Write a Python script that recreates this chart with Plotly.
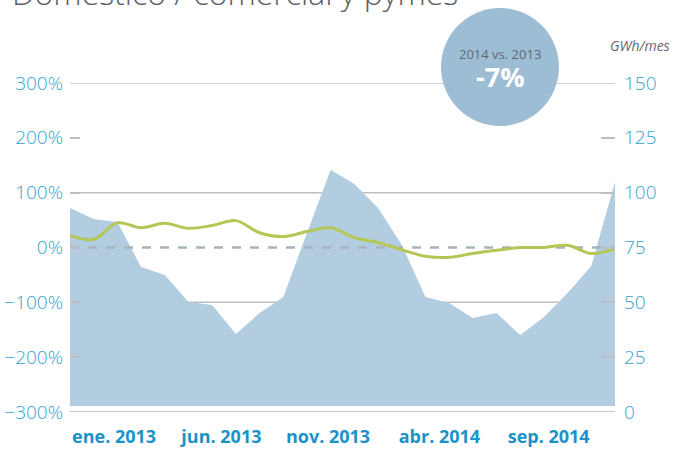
import plotly.graph_objects as go

# Data
months = ["ene. 2013", "feb. 2013", "mar. 2013", "abr. 2013", "may. 2013", "jun. 2013",
          "jul. 2013", "ago. 2013", "sep. 2013", "oct. 2013", "nov. 2013", "dic. 2013",
          "ene. 2014", "feb. 2014", "mar. 2014", "abr. 2014", "may. 2014", "jun. 2014",
          "jul. 2014", "ago. 2014", "sep. 2014", "oct. 2014", "nov. 2014", "dic. 2014"]
gwh = [93.0, 88.0, 86.6, 66.1, 62.5, 50.2, 48.8, 35.6, 45.1, 52.4, 81.6, 110.4,
       104.0, 93.0, 76.2, 52.4, 49.7, 42.9, 45.1, 35.1, 43.3, 54.3, 66.6, 104.9]
pct = [22, 15, 45, 36, 44, 35, 40, 49, 27, 20, 29, 36,
       18, 9, -4, -16, -18, -11, -5, 0, 0, 4, -11, -2]
tick_labels = ["ene. 2013", "jun. 2013", "nov. 2013", "abr. 2014", "sep. 2014"]
tick_pos = [1.86, 6.39, 10.89, 15.59, 20.2]
area_base = 2.7

x = list(range(len(months)))

AREA = "#b3cde0"
GREEN = "#b5c656"
BLUE = "#33a3d2"
BLUE_X = "#1b93c8"
GRID = "#bcc0c4"

fig = go.Figure()
# area on primary (right-side GWh) axis so it is drawn underneath
fig.add_trace(go.Scatter(x=x, y=[area_base] * len(x), yaxis="y", mode="lines",
                         line=dict(width=0, color=AREA), hoverinfo="skip", showlegend=False))
fig.add_trace(go.Scatter(x=x, y=gwh, yaxis="y", mode="lines", fill="tonexty",
                         fillcolor=AREA, line=dict(width=0, color=AREA), showlegend=False,
                         text=months, name="GWh/mes"))
# percentage traces on overlaying (left) axis, drawn above
fig.add_trace(go.Scatter(x=[x[0], x[-1]], y=[0, 0], yaxis="y2", mode="lines",
                         line=dict(color="#a8b3bc", width=2.5, dash="dash"),
                         hoverinfo="skip", showlegend=False))
fig.add_trace(go.Scatter(x=x, y=pct, yaxis="y2", mode="lines",
                         line=dict(color=GREEN, width=3, shape="spline", smoothing=1),
                         showlegend=False, text=months, name="%"))

shapes = []
for v in [150, 100, 50]:
    shapes.append(dict(type="line", xref="paper", x0=0, x1=1, yref="y", y0=v, y1=v,
                       line=dict(color=GRID, width=1.5), layer="below"))
shapes.append(dict(type="line", xref="paper", x0=0, x1=1, yref="y", y0=0, y1=0,
                   line=dict(color="#c4c8cc", width=2), layer="below"))
# circle badge
shapes.append(dict(type="circle", xref="paper", yref="paper",
                   x0=0.6807, x1=0.8972, y0=0.8693, y1=1.228,
                   fillcolor="#9dbdd5", line=dict(width=0), layer="above"))

annotations = [
    dict(text="Doméstico / comercial y pymes", xref="paper", yref="paper",
         x=-0.11, y=1.276, xanchor="left", yanchor="middle", showarrow=False,
         font=dict(family="Open Sans", size=32, color="#5b6166", weight=300)),
    dict(text="2014 vs. 2013", xref="paper", yref="paper", x=0.789, y=1.088,
         xanchor="center", yanchor="middle", showarrow=False,
         font=dict(family="Open Sans", size=13, color="#5c6a76")),
    dict(text="<b>-7%</b>", xref="paper", yref="paper", x=0.789, y=1.02,
         xanchor="center", yanchor="middle", showarrow=False,
         font=dict(family="Open Sans", size=27, color="white")),
    dict(text="<i>GWh/mes</i>", xref="paper", yref="paper", x=1.046, y=1.1155,
         xanchor="center", yanchor="middle", showarrow=False,
         font=dict(family="Open Sans", size=14, color="#666b70")),
]

fig.update_layout(
    width=678, height=452,
    margin=dict(l=70, r=63, t=83, b=40),
    paper_bgcolor="white", plot_bgcolor="white",
    showlegend=False,
    shapes=shapes, annotations=annotations,
    xaxis=dict(range=[0, 23], showgrid=False, zeroline=False, showline=False,
               tickmode="array", tickvals=tick_pos, ticktext=tick_labels,
               ticks="", ticklabelstandoff=12, automargin=False,
               tickfont=dict(family="Open Sans", size=18, color=BLUE_X, weight=700)),
    yaxis=dict(range=[0, 150], dtick=25, side="right",
               showgrid=False, zeroline=False, showline=False, ticks="inside",
               ticklen=14, tickcolor=GRID, tickwidth=1.5, ticklabelstandoff=8,
               automargin=False,
               tickfont=dict(family="Open Sans", size=19, color=BLUE, weight=300)),
    yaxis2=dict(range=[-300, 300], dtick=100, ticksuffix="%", side="left",
                overlaying="y", showgrid=False,
                zeroline=False, showline=False, ticks="inside", ticklen=10,
                tickcolor=GRID, tickwidth=1.5, ticklabelstandoff=6, automargin=False,
                tickfont=dict(family="Open Sans", size=19, color=BLUE, weight=300)),
)

fig.write_html("out.html", config={"displayModeBar": False},
               post_script="document.body.style.margin='0';document.body.style.padding='0';")
